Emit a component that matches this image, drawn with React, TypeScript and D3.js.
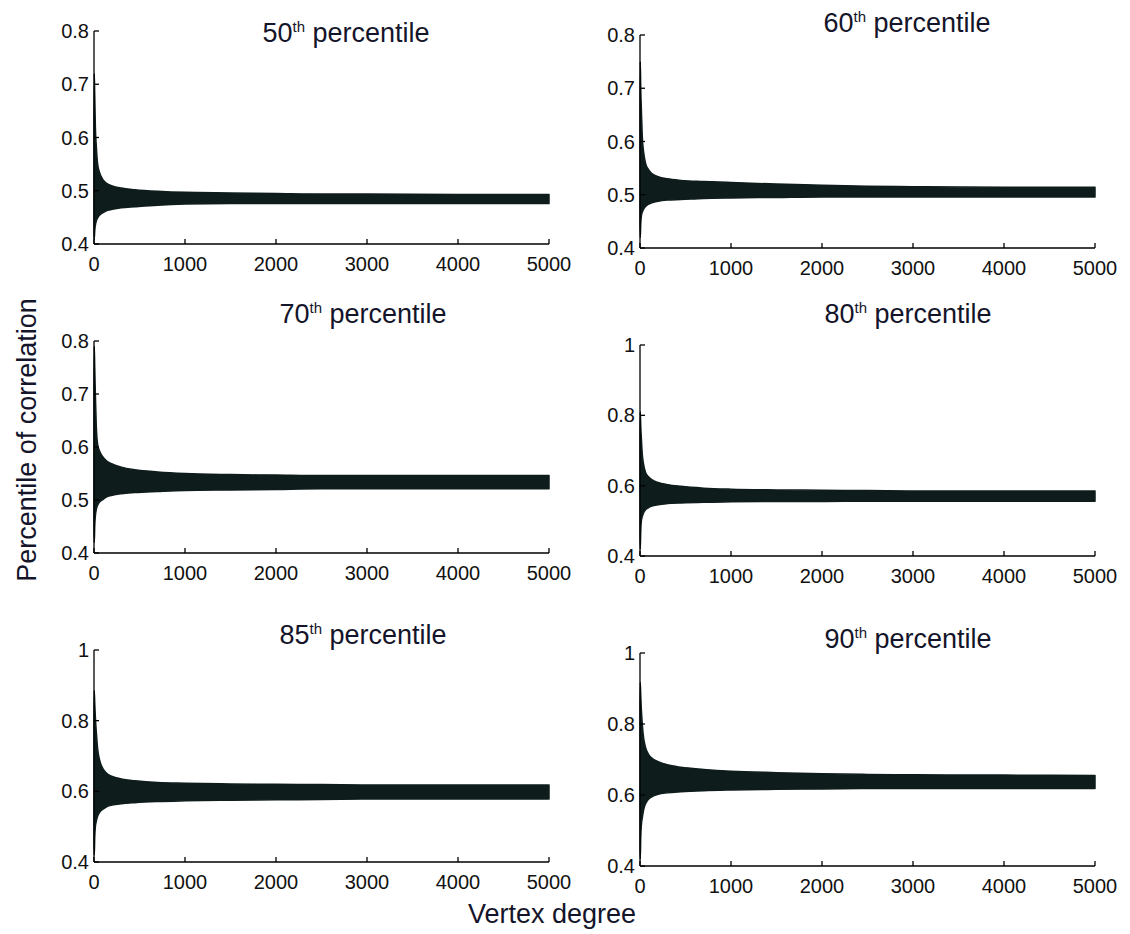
import React from "react";
import * as d3 from "d3";

// ---- data ----
const degrees = [0, 3, 8, 15, 25, 40, 60, 90, 130, 200, 300, 450, 700, 1000, 1500, 2000, 2500, 3000, 4000, 5000];

const p50Upper = [0.62, 0.72, 0.68, 0.62, 0.585, 0.55, 0.535, 0.523, 0.515, 0.509, 0.505, 0.502, 0.499, 0.497, 0.496, 0.495, 0.494, 0.494, 0.493, 0.493];
const p50Lower = [0.42, 0.41, 0.425, 0.435, 0.443, 0.449, 0.454, 0.458, 0.462, 0.465, 0.468, 0.47, 0.473, 0.475, 0.476, 0.476, 0.476, 0.476, 0.476, 0.476];

const p60Upper = [0.66, 0.75, 0.7, 0.66, 0.61, 0.58, 0.56, 0.548, 0.54, 0.534, 0.53, 0.527, 0.525, 0.523, 0.52, 0.518, 0.516, 0.515, 0.514, 0.514];
const p60Lower = [0.45, 0.42, 0.445, 0.46, 0.467, 0.473, 0.478, 0.482, 0.485, 0.488, 0.49, 0.491, 0.493, 0.494, 0.495, 0.496, 0.496, 0.496, 0.496, 0.496];

const p70Upper = [0.7, 0.79, 0.75, 0.7, 0.64, 0.605, 0.593, 0.583, 0.575, 0.568, 0.562, 0.557, 0.553, 0.55, 0.548, 0.547, 0.546, 0.546, 0.546, 0.546];
const p70Lower = [0.45, 0.42, 0.45, 0.47, 0.482, 0.49, 0.496, 0.5, 0.505, 0.509, 0.512, 0.514, 0.516, 0.518, 0.519, 0.52, 0.521, 0.521, 0.521, 0.521];

const p80Upper = [0.74, 0.81, 0.77, 0.735, 0.69, 0.66, 0.638, 0.626, 0.617, 0.609, 0.603, 0.598, 0.593, 0.59, 0.588, 0.587, 0.586, 0.585, 0.585, 0.585];
const p80Lower = [0.46, 0.42, 0.47, 0.5, 0.512, 0.523, 0.531, 0.537, 0.542, 0.546, 0.549, 0.551, 0.553, 0.554, 0.555, 0.555, 0.556, 0.556, 0.556, 0.556];

const p85Upper = [0.8, 0.885, 0.85, 0.81, 0.77, 0.72, 0.69, 0.668, 0.653, 0.642, 0.635, 0.63, 0.625, 0.623, 0.621, 0.62, 0.619, 0.618, 0.618, 0.618];
const p85Lower = [0.45, 0.42, 0.47, 0.5, 0.515, 0.53, 0.54, 0.548, 0.555, 0.561, 0.565, 0.568, 0.571, 0.573, 0.575, 0.576, 0.577, 0.578, 0.578, 0.578];

const p90Upper = [0.84, 0.917, 0.88, 0.84, 0.8, 0.76, 0.735, 0.716, 0.704, 0.694, 0.685, 0.678, 0.672, 0.667, 0.663, 0.66, 0.658, 0.657, 0.656, 0.655];
const p90Lower = [0.45, 0.42, 0.48, 0.515, 0.535, 0.558, 0.575, 0.587, 0.595, 0.602, 0.606, 0.609, 0.612, 0.614, 0.616, 0.617, 0.618, 0.618, 0.618, 0.618];

const titleNumbers = ["50", "60", "70", "80", "85", "90"];
const xTickValues = [0, 1000, 2000, 3000, 4000, 5000];
const yTicksLow = [0.4, 0.5, 0.6, 0.7, 0.8];
const yTicksHigh = [0.4, 0.6, 0.8, 1];

const seriesUpper = [p50Upper, p60Upper, p70Upper, p80Upper, p85Upper, p90Upper];
const seriesLower = [p50Lower, p60Lower, p70Lower, p80Lower, p85Lower, p90Lower];

// ---- layout ----
const FILL = "#0f1c1c";
const FONT = "'Liberation Sans', Arial, Helvetica, sans-serif";

const panels = [
  { x0: 94, x1: 549, y0: 31, y1: 244, yMax: 0.8, ticks: yTicksLow, tx: 346, ty: 42 },
  { x0: 640, x1: 1095, y0: 35, y1: 248, yMax: 0.8, ticks: yTicksLow, tx: 907, ty: 32 },
  { x0: 94, x1: 549, y0: 341, y1: 553, yMax: 0.8, ticks: yTicksLow, tx: 363, ty: 323 },
  { x0: 640, x1: 1095, y0: 345, y1: 556, yMax: 1, ticks: yTicksHigh, tx: 908, ty: 323 },
  { x0: 94, x1: 549, y0: 650, y1: 862, yMax: 1, ticks: yTicksHigh, tx: 363, ty: 644 },
  { x0: 640, x1: 1095, y0: 653, y1: 866, yMax: 1, ticks: yTicksHigh, tx: 908, ty: 648 },
];

function Panel({ idx }: { idx: number }) {
  const p = panels[idx];
  const x = d3.scaleLinear().domain([0, 5000]).range([p.x0, p.x1]);
  const y = d3.scaleLinear().domain([0.4, p.yMax]).range([p.y1, p.y0]);
  const up = seriesUpper[idx];
  const lo = seriesLower[idx];
  const rows = degrees.map((d, i) => ({ d, u: up[i], l: lo[i] }));
  const area = d3
    .area<{ d: number; u: number; l: number }>()
    .x((r) => x(r.d))
    .y0((r) => y(r.l))
    .y1((r) => y(r.u))
    .curve(d3.curveMonotoneX);
  const tickLen = 5;
  return (
    <g>
      <path d={area(rows) || ""} fill={FILL} stroke={FILL} strokeWidth={1.5} strokeLinejoin="round" />
      <line x1={p.x0} x2={p.x0} y1={p.y0} y2={p.y1} stroke="#000" strokeWidth={1.3} />
      <line x1={p.x0} x2={p.x1} y1={p.y1} y2={p.y1} stroke="#000" strokeWidth={1.3} />
      {xTickValues.map((t) => (
        <g key={"x" + t}>
          <line x1={x(t)} x2={x(t)} y1={p.y1} y2={p.y1 - tickLen} stroke="#000" strokeWidth={1.3} />
          <text x={x(t)} y={p.y1 + 27} textAnchor="middle" fontSize={20} fontFamily={FONT} fill="#111">
            {t}
          </text>
        </g>
      ))}
      {p.ticks.map((t) => (
        <g key={"y" + t}>
          <line x1={p.x0} x2={p.x0 + tickLen} y1={y(t)} y2={y(t)} stroke="#000" strokeWidth={1.3} />
          <text x={p.x0 - 5} y={y(t) + 7} textAnchor="end" fontSize={20} fontFamily={FONT} fill="#111">
            {String(t)}
          </text>
        </g>
      ))}
      <text x={p.tx} y={p.ty} textAnchor="middle" fontSize={27} fontFamily={FONT} fill="#14142a">
        <tspan>{titleNumbers[idx]}</tspan>
        <tspan dy={-10} fontSize={15}>th</tspan>
        <tspan dy={10}> percentile</tspan>
      </text>
    </g>
  );
}

export default function App() {
  return (
    <svg
      width={1130}
      height={934}
      style={{ position: "absolute", left: 0, top: 0, background: "#fff" }}
    >
      <rect x={0} y={0} width={1130} height={934} fill="#fff" />
      {panels.map((_, i) => (
        <Panel key={i} idx={i} />
      ))}
      <text
        transform="translate(36,440) rotate(-90)"
        textAnchor="middle"
        fontSize={27}
        fontFamily={FONT}
        fill="#14142a"
      >
        Percentile of correlation
      </text>
      <text x={552} y={923} textAnchor="middle" fontSize={27} fontFamily={FONT} fill="#14142a">
        Vertex degree
      </text>
    </svg>
  );
}
